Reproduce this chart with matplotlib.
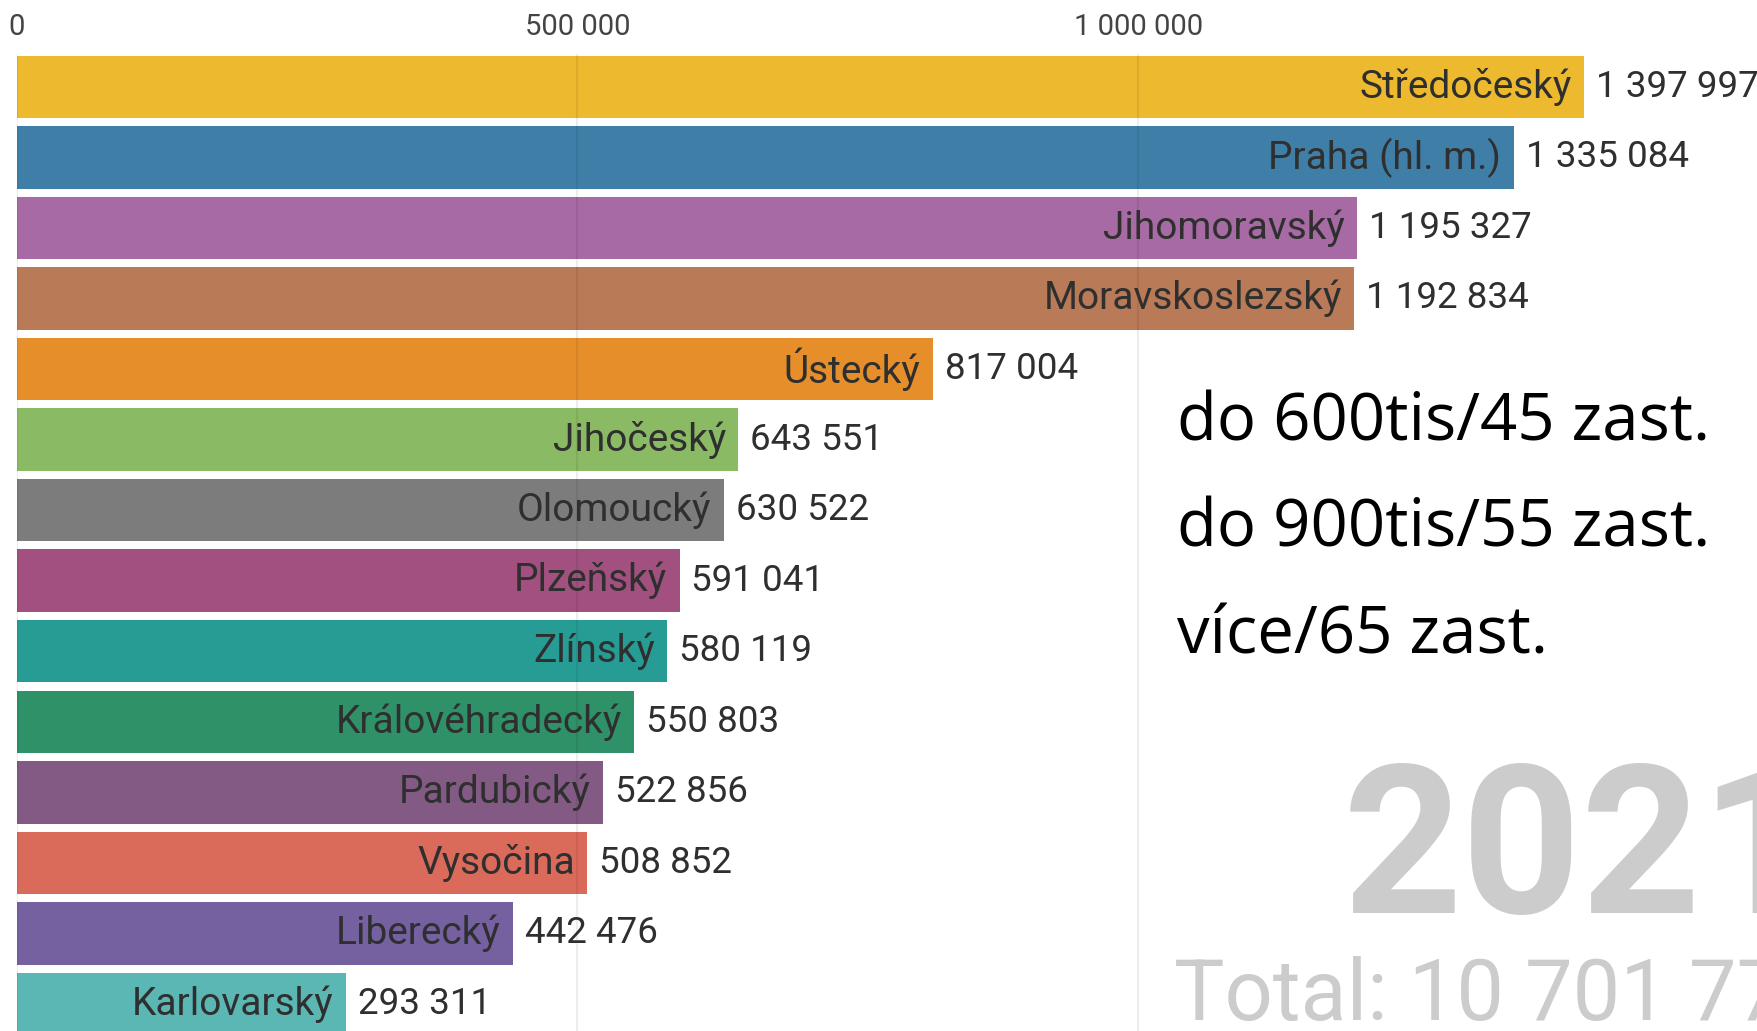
import matplotlib
matplotlib.use("Agg")
import matplotlib.pyplot as plt
from matplotlib.ticker import FuncFormatter

regions = ["Středočeský", "Praha (hl. m.)", "Jihomoravský", "Moravskoslezský",
           "Ústecký", "Jihočeský", "Olomoucký", "Plzeňský", "Zlínský",
           "Královéhradecký", "Pardubický", "Vysočina", "Liberecký", "Karlovarský"]
population = [1397997, 1335084, 1195327, 1192834, 817004, 643551, 630522,
              591041, 580119, 550803, 522856, 508852, 442476, 293311]
colors = ["#EDB92E", "#3F7EA6", "#A86AA4", "#B87A57", "#E68F2A", "#8BBA64",
          "#7C7C7C", "#A2507F", "#279C94", "#2F9168", "#835A83", "#DA6B5B",
          "#7561A0", "#5AB7B4"]
xticks = [0, 500000, 1000000]
year_label = "2021"
notes = ["do 600tis/45 zast.", "do 900tis/55 zast.", "více/65 zast."]

def fmt(v):
    return f"{int(v):,}".replace(",", " ")

W, H = 1758, 1031
fig = plt.figure(figsize=(W / 100, H / 100), dpi=100)

# layout (fractions of figure)
left = 0.00957
top = 0.9479
unit_frac = 0.3189 / 500000      # figure width fraction per unit of value
xmax = 1.6e6
pitch = 62.95 / 920              # fraction of height per bar
first_center = 77.5 / 920        # from top

ax = fig.add_axes([left, 0.0, xmax * unit_frac, top])
ax.set_xlim(0, xmax)
ytop = -(first_center - (1 - top)) / pitch
ybot = ytop + top / pitch
ax.set_ylim(ybot, ytop)

ypos = list(range(len(regions)))
ax.barh(ypos, population, height=0.885, color=colors, zorder=1)

for y, name, v in zip(ypos, regions, population):
    ax.annotate(name, (v, y), xytext=(-9.0, 0), textcoords="offset points",
                ha="right", va="center", fontsize=28, color="#2F2F2F",
                family="Roboto")
    ax.annotate(fmt(v), (v, y), xytext=(8.5, 0), textcoords="offset points",
                ha="left", va="center", fontsize=26.5, color="#2F2F2F",
                family="Roboto")

ax.set_xticks(xticks)
ax.xaxis.set_major_formatter(FuncFormatter(lambda v, p: fmt(v)))
ax.xaxis.tick_top()
ax.tick_params(axis="x", length=0, pad=9, labelsize=21, labelcolor="#444444")
for lab in ax.get_xticklabels():
    lab.set_family("Roboto")
ax.set_yticks([])
for s in ax.spines.values():
    s.set_visible(False)
ax.grid(axis="x", color="#000000", alpha=0.07, linewidth=1.5, zorder=3)
ax.set_axisbelow(False)

fig.text(0.764, 0.114, year_label, fontsize=150, fontweight="bold",
         color="#CCCCCC", ha="left", va="baseline",
         family=["Liberation Sans Narrow", "Roboto"])
fig.text(0.6677, 0.0109, "Total: " + fmt(sum(population)), fontsize=61,
         color="#CCCCCC", ha="left", va="baseline", family="Roboto")

for txt, yb in zip(notes, [0.5728, 0.4696, 0.3663]):
    fig.text(0.6696, yb, txt, fontsize=47, color="black", ha="left",
             va="baseline", family="Open Sans")

fig.savefig("out.png", dpi=100)
